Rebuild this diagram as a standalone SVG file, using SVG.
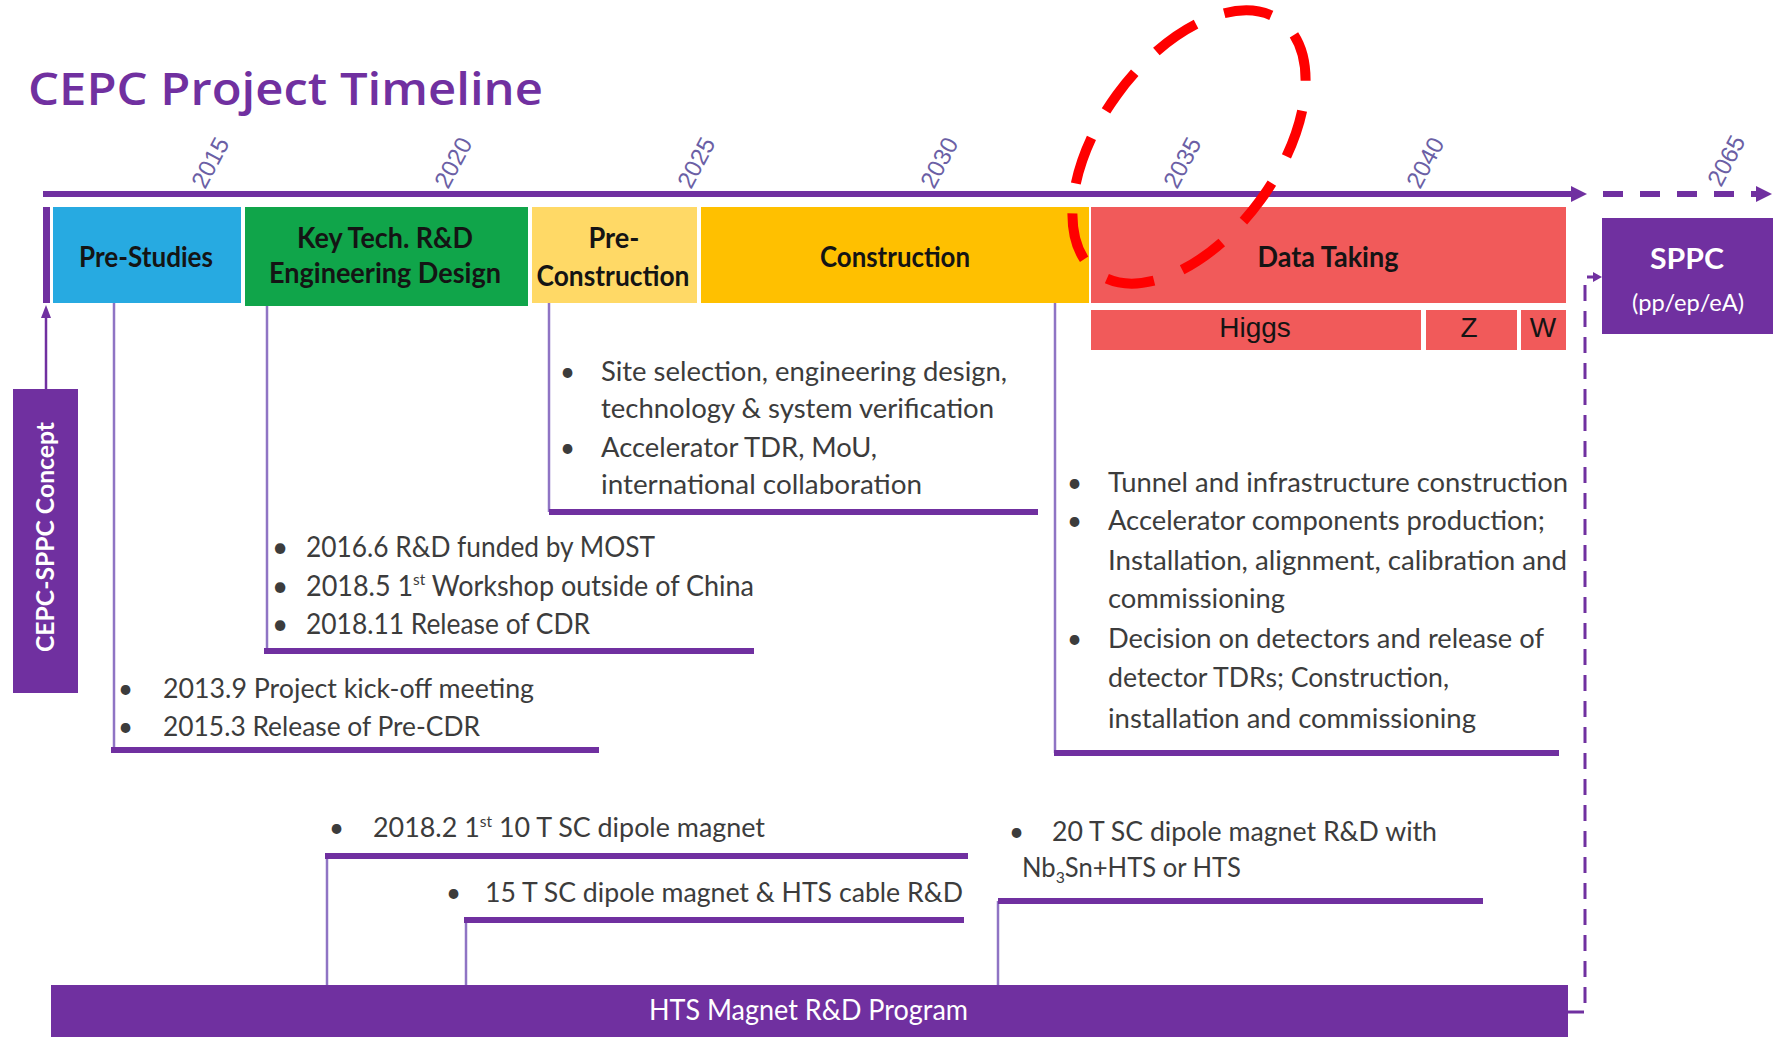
<svg xmlns="http://www.w3.org/2000/svg" width="1773" height="1037" viewBox="0 0 1773 1037">
<defs>
<style>
.body{font-family:Lato,"Open Sans","Liberation Sans",sans-serif;font-size:26px;fill:#3c3c3c}
.kt{font-size:28px}
.phase{font-family:Lato,"Liberation Sans",sans-serif;font-weight:700;font-size:28px;fill:#141414;text-anchor:middle}
.yr{font-family:"Liberation Sans",Arial,sans-serif;font-size:24px;fill:#6b5fa5}
.sub{font-family:"Liberation Sans",Arial,sans-serif;font-size:28px;fill:#141414;text-anchor:middle}
.thin{stroke:#8f74c4;stroke-width:2.5;fill:none}
.bar{fill:#7030a0}
.purple{fill:#7030a0}
.wt{font-family:Lato,"Liberation Sans",sans-serif;fill:#ffffff}
</style>
</defs>
<rect width="1773" height="1037" fill="#ffffff"/>

<g id="title">
<text x="28" y="105" font-family="'Open Sans','Liberation Sans',sans-serif" font-weight="600" font-size="45" fill="#7030a0" textLength="515" lengthAdjust="spacingAndGlyphs">CEPC Project Timeline</text>
</g>

<g id="axis">
<rect x="43" y="191" width="1530" height="6" class="bar"/>
<polygon points="1571,186 1587,194 1571,202" class="purple"/>
<line x1="1603" y1="194" x2="1757" y2="194" stroke="#7030a0" stroke-width="6" stroke-dasharray="20 17"/>
<polygon points="1756,186 1772,194 1756,202" class="purple"/>
<text class="yr" transform="translate(205,190) rotate(-62)">2015</text>
<text class="yr" transform="translate(448,190) rotate(-62)">2020</text>
<text class="yr" transform="translate(691,190) rotate(-62)">2025</text>
<text class="yr" transform="translate(934,190) rotate(-62)">2030</text>
<text class="yr" transform="translate(1177,190) rotate(-62)">2035</text>
<text class="yr" transform="translate(1420,190) rotate(-62)">2040</text>
<text class="yr" transform="translate(1721,188) rotate(-62)">2065</text>
</g>

<g id="start-marker">
<rect x="43" y="207" width="7" height="96" class="purple"/>
</g>

<g id="pre-studies">
<rect x="53" y="207" width="188" height="96" fill="#27aae1"/>
<text class="phase" x="146" y="267" textLength="134" lengthAdjust="spacingAndGlyphs">Pre-Studies</text>
</g>

<g id="key-tech">
<rect x="245" y="207" width="283" height="99" fill="#10a54a"/>
<text class="phase" x="385" y="248" textLength="176" lengthAdjust="spacingAndGlyphs">Key Tech. R&amp;D</text>
<text class="phase" x="385" y="283" textLength="232" lengthAdjust="spacingAndGlyphs">Engineering Design</text>
</g>

<g id="pre-construction">
<rect x="532" y="207" width="165" height="96" fill="#ffd966"/>
<text class="phase" x="614" y="248" textLength="51" lengthAdjust="spacingAndGlyphs">Pre-</text>
<text class="phase" x="613" y="286" textLength="153" lengthAdjust="spacingAndGlyphs">Construction</text>
</g>

<g id="construction">
<rect x="701" y="207" width="388" height="96" fill="#ffc000"/>
<text class="phase" x="895" y="267" textLength="150" lengthAdjust="spacingAndGlyphs">Construction</text>
</g>

<g id="data-taking">
<rect x="1091" y="207" width="475" height="96" fill="#f15a5a"/>
<text class="phase" x="1328" y="267" textLength="141" lengthAdjust="spacingAndGlyphs">Data Taking</text>
</g>

<g id="higgs">
<rect x="1091" y="310" width="330" height="40" fill="#f15a5a"/>
<text class="sub" x="1255" y="337">Higgs</text>
</g>
<g id="z">
<rect x="1426" y="310" width="91" height="40" fill="#f15a5a"/>
<text class="sub" x="1469" y="337">Z</text>
</g>
<g id="w">
<rect x="1521" y="310" width="45" height="40" fill="#f15a5a"/>
<text class="sub" x="1543" y="337">W</text>
</g>

<g id="sppc">
<rect x="1602" y="218" width="171" height="116" class="purple"/>
<text class="wt" x="1687" y="269" font-weight="700" font-size="28" text-anchor="middle" textLength="74" lengthAdjust="spacingAndGlyphs">SPPC</text>
<text class="wt" x="1688" y="311" font-size="23" text-anchor="middle" textLength="112" lengthAdjust="spacingAndGlyphs">(pp/ep/eA)</text>
</g>

<g id="cepc-sppc-concept">
<rect x="13" y="389" width="65" height="304" class="purple"/>
<text class="wt" transform="translate(54,537) rotate(-90)" font-weight="700" font-size="25" text-anchor="middle" textLength="230" lengthAdjust="spacingAndGlyphs">CEPC-SPPC Concept</text>
</g>

<g id="hts-program">
<rect x="51" y="985" width="1517" height="52" class="purple"/>
<text class="wt" x="649" y="1020" font-size="28" textLength="319" lengthAdjust="spacingAndGlyphs">HTS Magnet R&amp;D Program</text>
</g>

<g id="red-ellipse">
<ellipse cx="1189" cy="147" rx="89" ry="156" transform="rotate(36 1189 147)" fill="none" stroke="#ff0000" stroke-width="10" stroke-dasharray="48 30.4" stroke-dashoffset="20"/>
</g>

<g id="connectors">
<line x1="46" y1="389" x2="46" y2="316" stroke="#7030a0" stroke-width="2.5"/>
<polygon points="46,305 41,318 51,318" class="purple"/>
<path d="M1568 1012 H1585 V277 H1594" fill="none" stroke="#7030a0" stroke-width="3" stroke-dasharray="16 10"/>
<polygon points="1602,277 1593,272 1593,282" class="purple"/>

<line class="thin" x1="114" y1="303" x2="114" y2="750"/>
<line class="thin" x1="267" y1="306" x2="267" y2="651"/>
<line class="thin" x1="549" y1="303" x2="549" y2="512"/>
<line class="thin" x1="1055" y1="303" x2="1055" y2="753"/>
<line class="thin" x1="327" y1="857" x2="327" y2="985"/>
<line class="thin" x1="466" y1="920" x2="466" y2="985"/>
<line class="thin" x1="998" y1="901" x2="998" y2="985"/>

<rect x="111" y="747" width="488" height="6" class="bar"/>
<rect x="264" y="648" width="490" height="6" class="bar"/>
<rect x="549" y="509" width="489" height="6" class="bar"/>
<rect x="1054" y="750" width="505" height="6" class="bar"/>
<rect x="325" y="853" width="643" height="6" class="bar"/>
<rect x="464" y="917" width="500" height="6" class="bar"/>
<rect x="998" y="898" width="485" height="6" class="bar"/>
</g>

<g id="pre-studies-notes">
<text class="body" x="118" y="698">•</text>
<text class="body" x="118" y="736">•</text>
<text class="body" x="163" y="698" textLength="371" lengthAdjust="spacingAndGlyphs">2013.9 Project kick-off meeting</text>
<text class="body" x="163" y="736" textLength="317" lengthAdjust="spacingAndGlyphs">2015.3 Release of Pre-CDR</text>
</g>

<g id="key-tech-notes">
<text class="body kt" x="272" y="557">•</text>
<text class="body kt" x="272" y="596">•</text>
<text class="body kt" x="272" y="634">•</text>
<text class="body kt" x="306" y="557" textLength="349" lengthAdjust="spacingAndGlyphs">2016.6 R&amp;D funded by MOST</text>
<text class="body kt" x="306" y="596" textLength="448" lengthAdjust="spacingAndGlyphs">2018.5 1<tspan dy="-11" font-size="16">st</tspan><tspan dy="11"> Workshop outside of China</tspan></text>
<text class="body kt" x="306" y="634" textLength="284" lengthAdjust="spacingAndGlyphs">2018.11 Release of CDR</text>
</g>

<g id="pre-construction-notes">
<text class="body" x="560" y="381">•</text>
<text class="body" x="560" y="457">•</text>
<text class="body" x="601" y="381" textLength="406" lengthAdjust="spacingAndGlyphs">Site selection, engineering design,</text>
<text class="body" x="601" y="418" textLength="393" lengthAdjust="spacingAndGlyphs">technology &amp; system verification</text>
<text class="body" x="601" y="457" textLength="276" lengthAdjust="spacingAndGlyphs">Accelerator TDR, MoU,</text>
<text class="body" x="601" y="494" textLength="321" lengthAdjust="spacingAndGlyphs">international collaboration</text>
</g>

<g id="construction-notes">
<text class="body" x="1067" y="492">•</text>
<text class="body" x="1067" y="530">•</text>
<text class="body" x="1067" y="648">•</text>
<text class="body" x="1108" y="492" textLength="460" lengthAdjust="spacingAndGlyphs">Tunnel and infrastructure construction</text>
<text class="body" x="1108" y="530" textLength="437" lengthAdjust="spacingAndGlyphs">Accelerator components production;</text>
<text class="body" x="1108" y="570" textLength="459" lengthAdjust="spacingAndGlyphs">Installation, alignment, calibration and</text>
<text class="body" x="1108" y="608" textLength="177" lengthAdjust="spacingAndGlyphs">commissioning</text>
<text class="body" x="1108" y="648" textLength="436" lengthAdjust="spacingAndGlyphs">Decision on detectors and release of</text>
<text class="body" x="1108" y="687" textLength="341" lengthAdjust="spacingAndGlyphs">detector TDRs; Construction,</text>
<text class="body" x="1108" y="728" textLength="368" lengthAdjust="spacingAndGlyphs">installation and commissioning</text>
</g>

<g id="hts-notes">
<text class="body" x="329" y="837">•</text>
<text class="body" x="373" y="837" textLength="392" lengthAdjust="spacingAndGlyphs">2018.2 1<tspan dy="-10" font-size="15">st</tspan><tspan dy="10"> 10 T SC dipole magnet</tspan></text>
<text class="body" x="446" y="902">•</text>
<text class="body" x="485" y="902" textLength="478" lengthAdjust="spacingAndGlyphs">15 T SC dipole magnet &amp; HTS cable R&amp;D</text>
<text class="body" x="1009" y="841">•</text>
<text class="body" x="1052" y="841" textLength="385" lengthAdjust="spacingAndGlyphs">20 T SC dipole magnet R&amp;D with</text>
<text class="body" x="1022" y="877" textLength="219" lengthAdjust="spacingAndGlyphs">Nb<tspan dy="6" font-size="16">3</tspan><tspan dy="-6">Sn+HTS or HTS</tspan></text>
</g>
</svg>
